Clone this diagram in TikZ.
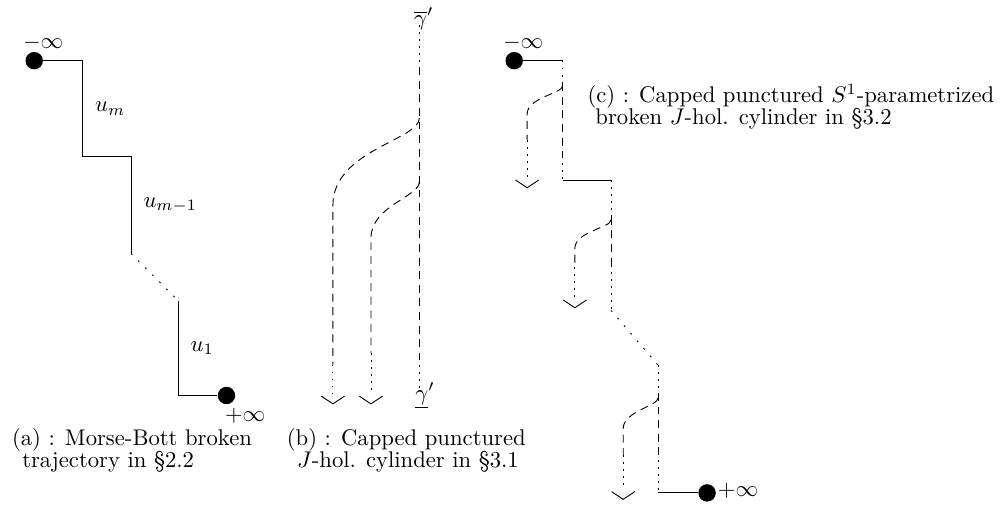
\documentclass[tikz,border=0pt]{standalone}
\usetikzlibrary{positioning}

\def\dotsize{0.27cm}
% cap drawn under the free end of a capped cylinder
\newcommand{\capat}[1]{\draw (#1) ++(-0.18,-0.05) -- ++(0.18,-0.12) -- ++(0.18,0.12);}

\begin{document}
\begin{tikzpicture}
    \tikzstyle{end dot}=[circle,fill=black,minimum size=\dotsize,inner sep=0pt]
    \tikzstyle{orbit end}=[dash pattern=on 0.8pt off 2.3pt]
    \tikzstyle{skip part}=[dash pattern=on 0.8pt off 3.6pt]
    \tikzstyle{cyl body}=[dash pattern=on 3.5pt off 2.5pt]
    \tikzstyle{caption}=[align=left,anchor=north west,inner sep=0pt,
        font={\fontsize{10}{9.7}\selectfont\lineskiplimit=-10pt}]

    \useasboundingbox (0,0) rectangle (15.5,-7.876);

    % (a) Morse-Bott broken trajectory
    \node[end dot] (a-start) at (0.53,-0.94) {};
    \node[end dot] (a-end) at (3.51,-6.13) {};
    \node (a-minf) at (0.67,-0.67) {$-\infty$};
    \node (a-pinf) at (3.80,-6.45) {$+\infty$};
    \coordinate (a1) at (1.28,-0.94);
    \coordinate (a2) at (1.28,-2.43);
    \coordinate (a3) at (2.03,-2.43);
    \coordinate (a4) at (2.03,-3.93);
    \coordinate (a5) at (2.76,-4.66);
    \coordinate (a6) at (2.76,-6.13);
    \draw (a-start) -- (a1) -- (a2) node[midway,right=2pt] {$u_m$}
        -- (a3) -- (a4) node[midway,right=2pt] {$u_{m-1}$};
    \draw[skip part] (a4) -- (a5);
    \draw (a5) -- (a6) node[midway,right=2pt] {$u_1$} -- (a-end);

    % (b) capped punctured cylinder
    \node (b-gtop) at (6.57,-0.29) {$\overline{\gamma}'$};
    \node (b-gbot) at (6.59,-6.14) {$\underline{\gamma}'$};
    \coordinate (b-top) at (6.50,-0.39);
    \coordinate (b-t1) at (6.50,-1.04);
    \coordinate (b-t2) at (6.50,-5.55);
    \coordinate (b-bot) at (6.50,-6.04);
    \draw[orbit end] (b-top) -- (b-t1);
    \draw[cyl body] (b-t1) -- (b-t2);
    \draw[orbit end] (b-t2) -- (b-bot);

    \coordinate (b-j1) at (6.50,-1.83);
    \coordinate (b-s1) at (5.16,-3.18);
    \coordinate (b-d1) at (5.16,-5.65);
    \coordinate (b-e1) at (5.16,-6.09);
    \coordinate (b-j2) at (6.50,-2.82);
    \coordinate (b-s2) at (5.75,-3.69);
    \coordinate (b-d2) at (5.75,-5.47);
    \coordinate (b-e2) at (5.75,-6.09);
    \draw[cyl body] (b-j1) .. controls +(0,-0.34) and +(0,0.85) .. (b-s1) -- (b-d1);
    \draw[cyl body] (b-j2) .. controls +(0,-0.23) and +(0,0.5) .. (b-s2) -- (b-d2);
    \draw[orbit end] (b-d1) -- (b-e1);
    \draw[orbit end] (b-d2) -- (b-e2);

    % (c) capped punctured broken cylinder
    \node[end dot] (c-start) at (7.97,-0.94) {};
    \node[end dot] (c-end) at (10.96,-7.64) {};
    \node (c-minf) at (8.11,-0.67) {$-\infty$};
    \node (c-pinf) at (11.44,-7.60) {$+\infty$};
    \coordinate (c1) at (8.72,-0.94);
    \coordinate (c-t1) at (8.72,-1.29);
    \coordinate (c-t2) at (8.72,-2.42);
    \coordinate (c2) at (8.72,-2.79);
    \coordinate (c3) at (9.47,-2.79);
    \coordinate (c-t3) at (9.47,-3.36);
    \coordinate (c-t4) at (9.47,-4.11);
    \coordinate (c4) at (9.47,-4.81);
    \coordinate (c5) at (10.20,-5.66);
    \coordinate (c-t5) at (10.20,-6.09);
    \coordinate (c-t6) at (10.20,-7.13);
    \coordinate (c6) at (10.20,-7.64);
    \draw (c-start) -- (c1);
    \draw[orbit end] (c1) -- (c-t1);
    \draw[cyl body] (c-t1) -- (c-t2);
    \draw[orbit end] (c-t2) -- (c2);
    \draw (c2) -- (c3);
    \draw[orbit end] (c3) -- (c-t3);
    \draw[cyl body] (c-t3) -- (c-t4);
    \draw[orbit end] (c-t4) -- (c4);
    \draw[skip part] (c4) -- (c5);
    \draw[orbit end] (c5) -- (c-t5);
    \draw[cyl body] (c-t5) -- (c-t6);
    \draw[orbit end] (c-t6) -- (c6);
    \draw (c6) -- (c-end);

    % caps hanging off each level
    \foreach \name / \x / \yb / \yd / \ye in {1/8.17/-1.77/-2.17/-2.74,
                                         2/8.91/-3.85/-4.14/-4.60,
                                         3/9.66/-6.64/-7.05/-7.57}
    {
        \coordinate (c-s\name) at (\x,\yb);
        \coordinate (c-d\name) at (\x,\yd);
        \coordinate (c-e\name) at (\x,\ye);
    }
    \coordinate (c-j1) at (8.72,-1.33);
    \coordinate (c-j2) at (9.47,-3.41);
    \coordinate (c-j3) at (10.20,-6.17);
    \foreach \name in {1,...,3}
    {
        \draw[cyl body] (c-j\name) .. controls +(0,-0.12) and +(0,0.26) .. (c-s\name) -- (c-d\name);
        \draw[orbit end] (c-d\name) -- (c-e\name);
    }

    \foreach \e in {b-e1,b-e2,c-e1,c-e2,c-e3}
    {
        \capat{\e}
    }

    % Captions
    \node[caption] (a-cap) at (0.18,-6.64) {(a) : Morse-Bott broken\\\hspace*{4.5pt}trajectory in \S2.2};
    \node[caption] (b-cap) at (4.44,-6.64) {(b) : Capped punctured\\\hspace*{4.5pt}$J$-hol. cylinder in \S3.1};
    \node[caption] (c-cap) at (9.10,-1.30) {(c) : Capped punctured $S^1$-parametrized\\\hspace*{3.5pt}broken $J$-hol. cylinder in \S3.2};
\end{tikzpicture}
\end{document}
